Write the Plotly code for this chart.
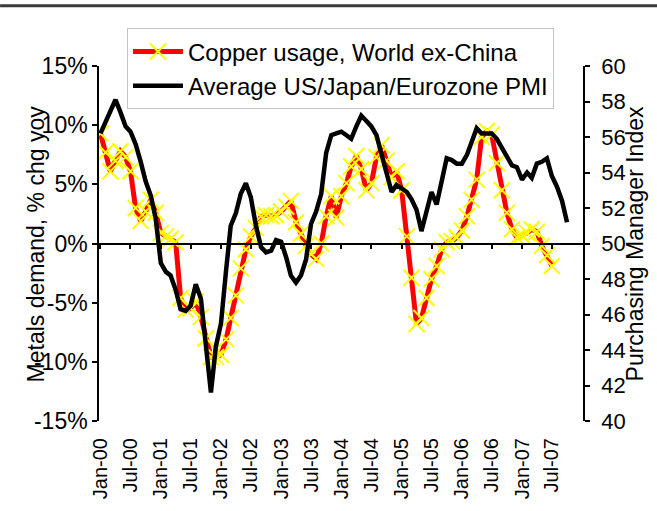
import pandas as pd
import plotly.graph_objects as go

# Copper usage, World ex-China: % change year on year, monthly from Jan-2000
copper_yoy = [
    9.3, 7.7, 6.1, 7.0, 7.8, 7.3, 6.1, 3.0, 1.9, 2.7, 3.7, 2.6,
    0.9, 0.6, 0.4, 0.1, -4.6, -5.6, -5.5, -4.9, -6.2, -8.0, -9.6, -9.6,
    -9.4, -8.1, -6.3, -4.4, -2.1, -0.5, 0.6, 1.3, 2.3, 2.4, 2.3, 2.4,
    2.7, 3.1, 3.6, 1.8, 0.8, -0.2, -0.9, -1.3, 0.0, 2.3, 4.0, 2.2,
    4.0, 5.1, 6.5, 7.4, 6.3, 4.5, 5.1, 7.3, 8.3, 7.0, 5.6, 6.1,
    4.5, 0.6, -2.9, -6.8, -6.3, -4.6, -3.0, -1.9, -0.5, 0.1, 0.2, 0.5,
    1.1, 2.3, 3.7, 5.4, 9.0, 9.5, 9.2, 6.8, 4.5, 2.6, 1.2, 0.5,
    0.7, 0.9, 1.2, 1.0, -0.2, -1.0, -1.9,
]

# Average US/Japan/Eurozone purchasing manager index, monthly from Jan-2000
pmi_avg = [
    56.2, 56.8, 57.5, 58.1, 57.4, 56.6, 56.3, 55.6, 54.6, 53.5, 52.7, 51.4,
    48.9, 48.4, 48.2, 47.4, 46.3, 46.2, 46.5, 47.7, 46.9, 44.3, 41.6, 44.2,
    45.5, 48.5, 51.0, 51.7, 52.8, 53.4, 52.6, 51.0, 49.8, 49.5, 49.6, 50.2,
    50.1, 49.2, 48.2, 47.8, 48.2, 49.1, 51.1, 51.8, 52.8, 55.1, 56.1, 56.2,
    56.3, 56.1, 55.9, 56.6, 57.2, 56.9, 56.6, 56.1, 55.0, 54.0, 52.9, 53.3,
    53.1, 52.9, 52.5, 51.9, 50.7, 51.8, 52.9, 52.2, 53.5, 54.8, 54.7, 54.5,
    54.5, 55.0, 55.7, 56.5, 56.2, 56.2, 56.2, 55.9, 55.4, 55.0, 54.4, 54.3,
    53.6, 54.0, 53.7, 54.5, 54.6, 54.8, 53.8, 53.2, 52.4, 51.2,
]

months = pd.date_range("2000-01-01", periods=len(pmi_avg), freq="MS")

# Half-yearly date ticks, Jan-00 through Jul-07
x_tickvals = pd.date_range("2000-01-01", "2007-07-01", freq="6MS")

left_tickvals = [-15, -10, -5, 0, 5, 10, 15]
left_ticktext = ["-15%", "-10%", "-5%", "0%", "5%", "10%", "15%"]
right_tickvals = [40, 42, 44, 46, 48, 50, 52, 54, 56, 58, 60]

FONT = "Liberation Sans, Arial, Helvetica, sans-serif"
INK = "#000000"
x_range = ["1999-12-23", "2008-01-12"]

fig = go.Figure()

fig.add_trace(go.Scatter(
    x=months[:len(copper_yoy)], y=copper_yoy,
    name="Copper usage, World ex-China",
    mode="lines+markers",
    line=dict(color="#FF0000", width=5),
    marker=dict(symbol="x-thin", size=16, color="#FFFF00",
                line=dict(color="#FFFF00", width=2)),
    xaxis="x", yaxis="y",
))

fig.add_trace(go.Scatter(
    x=months, y=pmi_avg,
    name="Average US/Japan/Eurozone PMI",
    mode="lines",
    line=dict(color="#000000", width=4.5),
    xaxis="x2", yaxis="y2",
))

fig.update_layout(
    width=657, height=511,
    margin=dict(l=99, r=73, t=66, b=86),
    paper_bgcolor="white", plot_bgcolor="white",
    font=dict(family=FONT, color=INK),
    showlegend=True,
    legend=dict(
        x=0.0577, y=1.106, xanchor="left", yanchor="top",
        bgcolor="white", bordercolor="#c4c4c4", borderwidth=1,
        font=dict(family=FONT, size=24, color=INK),
        itemwidth=50, tracegroupgap=0,
    ),
    xaxis=dict(
        type="date", range=x_range,
        tickvals=x_tickvals, tickformat="%b-%y",
        tickangle=-90, ticks="", showline=False, showgrid=False, zeroline=False,
        ticklabelstandoff=12,
        tickfont=dict(family=FONT, size=20, color=INK),
    ),
    xaxis2=dict(
        type="date", range=x_range, overlaying="x",
        anchor="free", position=0.5,
        tickvals=x_tickvals,
        showline=True, linecolor="black", linewidth=1.5,
        ticks="outside", ticklen=5, tickwidth=1.5, tickcolor="black",
        showticklabels=False, showgrid=False, zeroline=False,
    ),
    yaxis=dict(
        range=[-15, 15], tickvals=left_tickvals, ticktext=left_ticktext,
        showline=True, linecolor="black", linewidth=1.5,
        ticks="outside", ticklen=5, tickwidth=1.5, tickcolor="black",
        showgrid=False, zeroline=False,
        tickfont=dict(family=FONT, size=23, color=INK),
    ),
    yaxis2=dict(
        range=[40, 60], tickvals=right_tickvals, overlaying="y",
        side="right", anchor="free", position=1,
        showline=True, linecolor="black", linewidth=1.5,
        ticks="outside", ticklen=5, tickwidth=1.5, tickcolor="black",
        showgrid=False, zeroline=False, ticklabelstandoff=7,
        tickfont=dict(family=FONT, size=22, color=INK),
    ),
    annotations=[
        dict(text="Metals demand, % chg yoy", xref="paper", yref="paper",
             x=-0.130, y=0.5, xanchor="center", yanchor="middle",
             textangle=-90, showarrow=False,
             font=dict(family=FONT, size=23, color=INK)),
        dict(text="Purchasing Manager Index", xref="paper", yref="paper",
             x=1.105, y=0.5, xanchor="center", yanchor="middle",
             textangle=-90, showarrow=False,
             font=dict(family=FONT, size=23, color=INK)),
    ],
    shapes=[
        dict(type="line", xref="paper", yref="paper",
             x0=-0.204, x1=1.1505, y0=1.170, y1=1.170,
             line=dict(color="#3a3a3a", width=3)),
    ],
)

fig.write_html("out.html")
